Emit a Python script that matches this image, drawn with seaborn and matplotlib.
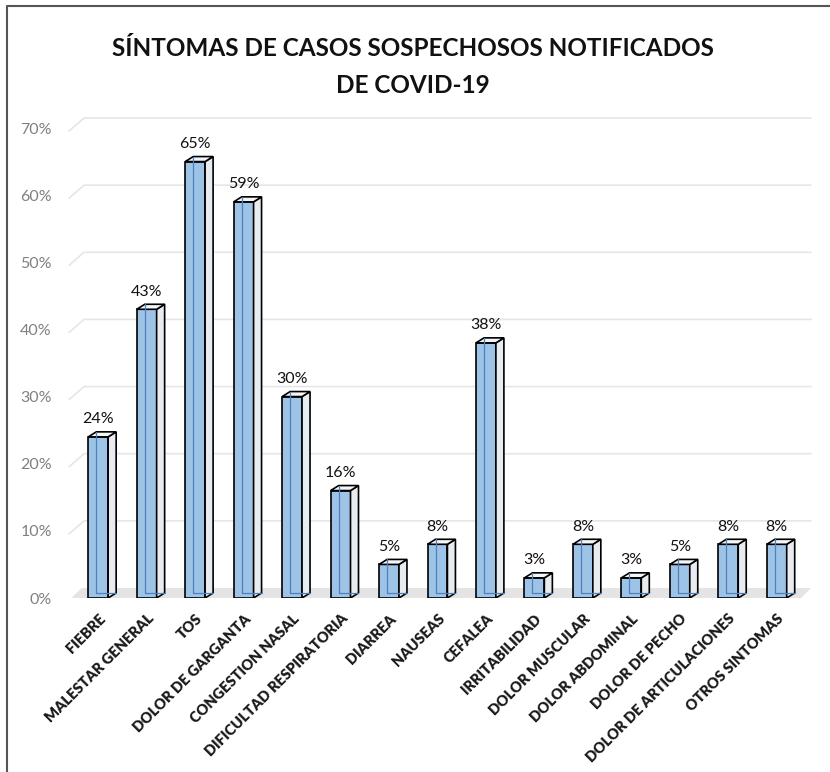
import matplotlib
matplotlib.use('Agg')
import matplotlib.pyplot as plt
import seaborn as sns
import pandas as pd
from matplotlib.patches import Polygon
from matplotlib.lines import Line2D

# Data
sintomas = ['FIEBRE', 'MALESTAR GENERAL', 'TOS', 'DOLOR DE GARGANTA', 'CONGESTION NASAL',
            'DIFICULTAD RESPIRATORIA', 'DIARREA', 'NAUSEAS', 'CEFALEA', 'IRRITABILIDAD',
            'DOLOR MUSCULAR', 'DOLOR ABDOMINAL', 'DOLOR DE PECHO', 'DOLOR DE ARTICULACIONES',
            'OTROS SINTOMAS']
porcentajes = [0.24, 0.43, 0.65, 0.59, 0.30, 0.16, 0.05, 0.08, 0.38, 0.03, 0.08, 0.03, 0.05, 0.08, 0.08]
y_ticks = [0, 0.1, 0.2, 0.3, 0.4, 0.5, 0.6, 0.7]

df = pd.DataFrame({'sintoma': sintomas, 'pct': porcentajes})

sns.set_style('white')
plt.rcParams['font.family'] = ['Lato', 'DejaVu Sans']

fig = plt.figure(figsize=(8.3, 7.72), dpi=100)
ax = fig.add_axes([74 / 830, 174 / 772, 727 / 830, 470 / 772])

front = '#9DC3E6'
side = '#E8ECF0'
topc = '#F3F5F7'

sns.barplot(data=df, x='sintoma', y='pct', color=front, width=0.41, saturation=1,
            edgecolor='black', linewidth=1.2, ax=ax, zorder=3)

ax.set_xlim(-0.5, len(sintomas) - 0.5)
ax.set_ylim(0, 0.70)

# pseudo 3D offsets (data units)
dx = 8 / 48.5
dy = 5 / 671
gdx = 10 / 48.5
gdy = 10 / 671

# floor
ax.add_patch(Polygon([(-0.55, 0), (-0.55 + gdx, gdy), (14.5 + gdx, gdy), (14.5, 0)],
                     closed=True, facecolor='#E4E4E4', edgecolor='none', zorder=1, clip_on=False))

# back wall gridlines
for v in y_ticks[1:]:
    ax.add_line(Line2D([-0.6, -0.5 + gdx, 14.5 + gdx], [v - 0.3 * gdy, v + gdy, v + gdy],
                       color='#E6E6E6', lw=1.2, zorder=0, clip_on=False))

# side/top faces for each bar
for p in ax.patches[:]:
    if not hasattr(p, 'get_width') or p.get_height() <= 0:
        continue
    x0, w, h = p.get_x(), p.get_width(), p.get_height()
    ax.add_patch(Polygon([(x0 + w, 0), (x0 + w + dx, dy), (x0 + w + dx, h + dy), (x0 + w, h)],
                         closed=True, facecolor=side, edgecolor='black', lw=1.2, zorder=3))
    ax.add_patch(Polygon([(x0, h), (x0 + dx, h + dy), (x0 + w + dx, h + dy), (x0 + w, h)],
                         closed=True, facecolor=topc, edgecolor='black', lw=1.2, zorder=4))
    ax.add_line(Line2D([x0 + dx, x0 + dx], [dy, h + dy], color='#4F81BD', lw=0.9, zorder=4))
    ax.add_line(Line2D([x0 + dx, x0 + w + dx], [dy, dy], color='#4F81BD', lw=0.9, zorder=4))
    ax.text(x0 + w / 2, h + 0.016, f'{h * 100:.0f}%', ha='center', va='bottom', fontsize=11.5,
            color='#111111', zorder=5)

ax.set_yticks(y_ticks)
ax.set_yticklabels([f'{v * 100:.0f}%' for v in y_ticks], color='#808080', fontsize=11.5)
ax.tick_params(axis='y', length=0, pad=16)
ax.tick_params(axis='x', length=0, pad=10)
ax.set_xticks(range(len(sintomas)))
ax.set_xticklabels(sintomas, rotation=45, ha='right', rotation_mode='anchor',
                   fontsize=10.5, fontweight='heavy', color='#1a1a1a')
ax.set_xlabel('')
ax.set_ylabel('')
sns.despine(ax=ax, left=True, bottom=True)

fig.text(0.497, 0.913, 'SÍNTOMAS DE CASOS SOSPECHOSOS NOTIFICADOS\nDE COVID-19',
         ha='center', va='center', fontsize=17.5, fontweight='bold', linespacing=1.75,
         color='#111111')

# outer frame (left and top)
fig.add_artist(Line2D([7 / 830, 7 / 830, 1.0], [0.0, 1 - 6 / 772, 1 - 6 / 772],
                      transform=fig.transFigure, color='#555555', lw=1.5))

fig.savefig('out.png', dpi=100)
